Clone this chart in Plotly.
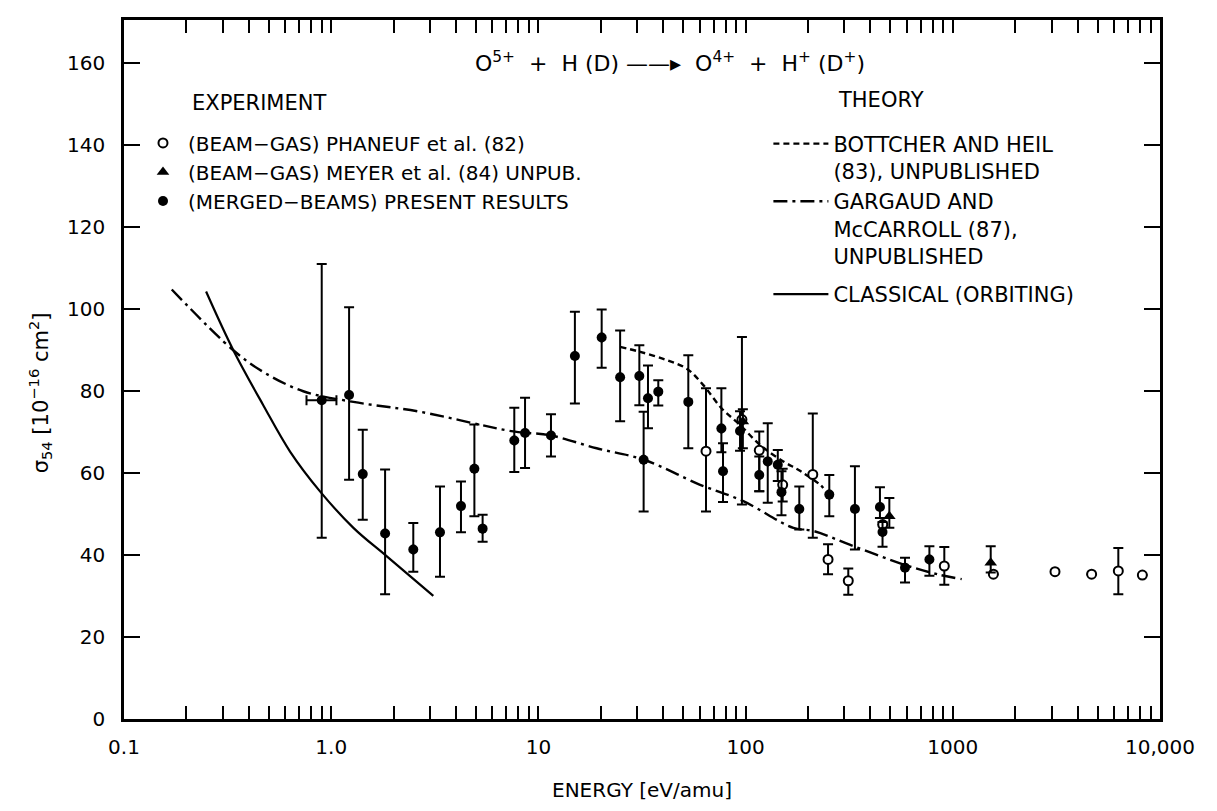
import plotly.graph_objects as go

# ---------------- data ----------------
# Merged-beams (present results)
mb_e = [0.90, 1.22, 1.42, 1.82, 2.49, 3.35, 4.23, 4.91, 5.38, 7.65, 8.62, 11.5, 15.0, 20.2,
        24.8, 30.7, 33.8, 32.2, 37.9, 52.9, 76.4, 77.8, 94, 116.4, 127.9, 143, 149, 181.6,
        253.5, 337, 445, 458, 588, 771]
mb_s = [77.7, 79.0, 59.7, 45.2, 41.3, 45.5, 51.9, 61.0, 46.4, 67.9, 69.7, 69.1, 88.5, 93.0,
        83.3, 83.6, 78.2, 63.2, 79.8, 77.3, 70.8, 60.4, 70.2, 59.5, 62.8, 62.0, 55.3, 51.2,
        54.7, 51.2, 51.7, 45.6, 36.9, 38.9]
mb_hi = [110.9, 100.4, 70.5, 60.8, 47.8, 56.7, 57.9, 71.8, 49.8, 75.9, 78.3, 74.3, 99.3, 99.8,
         94.7, 91.1, 86.2, 74.9, 82.6, 88.7, 80.6, 67.2, 75.0, 64.0, 72.1, 65.6, 60.4, 56.7,
         59.5, 61.6, 56.5, 48.0, 39.3, 42.1]
mb_lo = [44.2, 58.3, 48.6, 30.4, 35.9, 34.7, 45.5, 49.4, 43.2, 60.2, 61.2, 64.0, 76.9, 85.6,
         72.6, 76.5, 70.9, 50.6, 76.4, 66.0, 65.0, 52.9, 65.4, 55.5, 52.7, 58.0, 49.7, 46.2,
         49.4, 41.3, 49.0, 42.0, 33.3, 34.9]
mb_ex_plus = [0.16] + [None] * (len(mb_e) - 1)
mb_ex_minus = [0.14] + [None] * (len(mb_e) - 1)

# Beam-gas, Phaneuf et al. (82)
ph_e = [64.4, 96, 116.4, 151, 211, 250, 313, 459, 910, 1570, 3113, 4677, 6293, 8219]
ph_s = [65.3, 73.0, 65.5, 57.1, 59.6, 38.9, 33.7, 47.4, 37.3, 35.3, 35.9, 35.3, 36.1, 35.1]
ph_hi = [80.6, 93.1, 70.1, 61.0, 74.5, 42.6, 36.7, 47.4, 41.9, 35.3, 35.9, 35.3, 41.7, 35.1]
ph_lo = [50.6, 52.3, 55.5, 53.0, 44.2, 35.3, 30.3, 47.4, 32.7, 35.3, 35.9, 35.3, 30.4, 35.1]

# Beam-gas, Meyer et al. (84)
me_e = [97, 494, 1524]
me_s = [72.5, 49.4, 38.1]
me_hi = [75.5, 53.9, 42.1]
me_lo = [66.0, 46.6, 35.7]

# Theory: Bottcher and Heil (83)
bh_e = [24.8, 31, 41.6, 52, 62.5, 76.7, 94, 117.5, 152, 183, 229, 237]
bh_s = [90.7, 89.5, 87.5, 85.4, 81.4, 75.7, 71.7, 66.8, 62.8, 60.5, 57.1, 56.3]

# Theory: Gargaud and McCarroll (87)
gm_e = [0.17, 0.337, 0.47, 0.733, 1.28, 2.68, 7.57, 11.3, 19.1, 32.3, 60.3, 97.5, 170, 214,
        318, 575, 840, 1104]
gm_s = [104.7, 89.9, 84.6, 79.9, 77.3, 74.9, 70.1, 69.2, 66.0, 63.2, 57.1, 53.1, 46.6, 45.8,
        42.5, 37.7, 35.3, 34.1]

# Theory: classical (orbiting)
cl_e = [0.249, 0.337, 0.47, 0.633, 0.883, 1.28, 1.85, 3.11]
cl_s = [104.2, 89.9, 76.5, 65.2, 55.5, 46.6, 39.7, 30.0]

x_major_vals = [0.1, 1, 10, 100, 1000, 10000]
x_major_text = ["0.1", "1.0", "10", "100", "1000", "10,000"]
y_tick_vals = [0, 20, 40, 60, 80, 100, 120, 140, 160]

FONT = "DejaVu Sans"

def plus(v, hi):
    return [h - s for s, h in zip(v, hi)]

def minus(v, lo):
    return [s - l for s, l in zip(v, lo)]

# major + minor log ticks (minor ones unlabeled)
x_tick_vals, x_tick_text = [], []
for d in range(-1, 4):
    for m in range(1, 10):
        v = m * 10 ** d
        x_tick_vals.append(v)
        x_tick_text.append(x_major_text[d + 1] if m == 1 else "")
x_tick_vals.append(x_major_vals[-1])
x_tick_text.append(x_major_text[-1])

fig = go.Figure()

fig.add_trace(go.Scatter(x=bh_e, y=bh_s, mode="lines", name="BOTTCHER AND HEIL<br>(83), UNPUBLISHED",
                         line=dict(color="black", width=2.4, dash="6px,4px", shape="spline"),
                         legend="legend2", legendgroup="a"))
fig.add_trace(go.Scatter(x=gm_e, y=gm_s, mode="lines", name="GARGAUD AND<br>McCARROLL (87),<br>UNPUBLISHED",
                         line=dict(color="black", width=2.4, dash="14px,5px,3px,5px", shape="spline"),
                         legend="legend2", legendgroup="a"))
fig.add_trace(go.Scatter(x=cl_e, y=cl_s, mode="lines", name="CLASSICAL (ORBITING)",
                         line=dict(color="black", width=2.2, shape="spline"),
                         legend="legend2", legendgroup="b"))

err_style = dict(color="black", thickness=2, width=5)

fig.add_trace(go.Scatter(x=ph_e, y=ph_s, mode="markers", name="(BEAM\u2212GAS) PHANEUF et al. (82)",
                         marker=dict(symbol="circle", size=9, color="white", line=dict(color="black", width=2)),
                         error_y=dict(type="data", symmetric=False, array=plus(ph_s, ph_hi),
                                      arrayminus=minus(ph_s, ph_lo), **err_style),
                         legend="legend"))
fig.add_trace(go.Scatter(x=me_e, y=me_s, mode="markers", name="(BEAM\u2212GAS) MEYER et al. (84) UNPUB.",
                         marker=dict(symbol="triangle-up", size=11, color="black"),
                         error_y=dict(type="data", symmetric=False, array=plus(me_s, me_hi),
                                      arrayminus=minus(me_s, me_lo), **err_style),
                         legend="legend"))
fig.add_trace(go.Scatter(x=mb_e, y=mb_s, mode="markers", name="(MERGED\u2212BEAMS) PRESENT RESULTS",
                         marker=dict(symbol="circle", size=10, color="black"),
                         error_y=dict(type="data", symmetric=False, array=plus(mb_s, mb_hi),
                                      arrayminus=minus(mb_s, mb_lo), **err_style),
                         error_x=dict(type="data", symmetric=False, array=mb_ex_plus,
                                      arrayminus=mb_ex_minus, **err_style),
                         legend="legend"))

fig.update_layout(
    width=1217, height=811,
    margin=dict(l=124, r=57, t=20, b=89),
    plot_bgcolor="white", paper_bgcolor="white",
    font=dict(family=FONT, size=20, color="black"),
    xaxis=dict(type="log", range=[-1, 4], tickmode="array", tickvals=x_tick_vals, ticktext=x_tick_text,
               ticks="inside", ticklen=13, tickwidth=2, tickcolor="black",
               showline=True, linewidth=2.5, linecolor="black", mirror="ticks", showgrid=False,
               zeroline=False, ticklabelstandoff=8, tickfont=dict(size=20),
               title=dict(text="ENERGY [eV/amu]", standoff=26, font=dict(size=20))),
    yaxis=dict(range=[0, 170.4], tickmode="array", tickvals=y_tick_vals,
               ticks="inside", ticklen=16, tickwidth=2, tickcolor="black",
               showline=True, linewidth=2.5, linecolor="black", mirror="ticks", showgrid=False,
               zeroline=False, ticklabelstandoff=12, tickfont=dict(size=20)),
    legend=dict(x=0.0135, y=0.852, xanchor="left", yanchor="top", bgcolor="rgba(0,0,0,0)",
                font=dict(size=20, family=FONT), itemwidth=40, tracegroupgap=0),
    legend2=dict(x=0.622, y=0.852, xanchor="left", yanchor="top", bgcolor="rgba(0,0,0,0)",
                 font=dict(size=21, family=FONT), itemwidth=55, valign="top", tracegroupgap=8),
    showlegend=True,
    annotations=[
        dict(text="O<sup>5+</sup>  +  H (D) \u2014\u2014\u25b8  O<sup>4+</sup>  +  H<sup>+</sup> (D<sup>+</sup>)",
             x=0.527, y=0.94, xref="paper", yref="paper", xanchor="center", yanchor="middle",
             showarrow=False, font=dict(size=22)),
        dict(text="EXPERIMENT", x=0.0637, y=0.8818, xref="paper", yref="paper", xanchor="left",
             yanchor="middle", showarrow=False, font=dict(size=21)),
        dict(text="THEORY", x=0.687, y=0.886, xref="paper", yref="paper", xanchor="left",
             yanchor="middle", showarrow=False, font=dict(size=21)),
        dict(text="\u03c3<sub>54</sub> [10<sup>\u221216</sup> cm<sup>2</sup>]", textangle=-90,
             x=-0.081, y=0.466, xref="paper", yref="paper", xanchor="center", yanchor="middle",
             showarrow=False, font=dict(size=21)),
    ],
)

fig.write_html("out.html")
